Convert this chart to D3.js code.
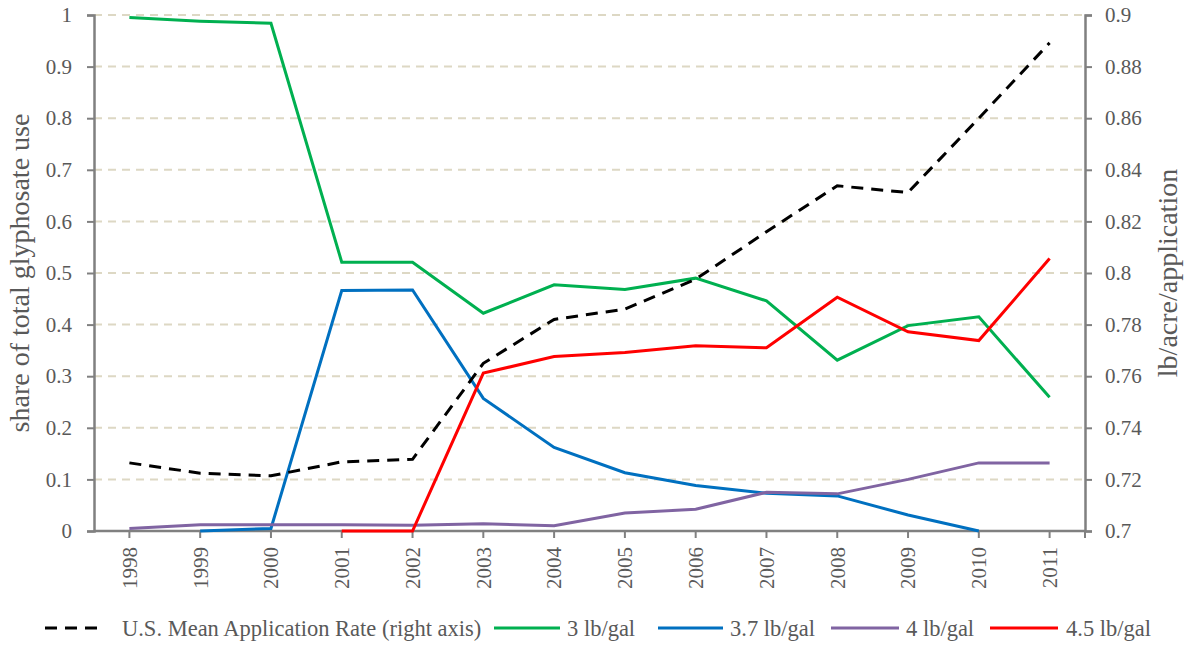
<!DOCTYPE html>
<html>
<head>
<meta charset="utf-8">
<script src="https://cdn.jsdelivr.net/npm/d3@7"></script>
<style>
  body { margin: 0; background: #fff; }
</style>
</head>
<body>
<div id="chart"></div>
<script>
const years = ['1998', '1999', '2000', '2001', '2002', '2003', '2004', '2005', '2006', '2007', '2008', '2009', '2010', '2011'];

// left axis: share of total glyphosate use (null = no data)
const lb30 = [0.995, 0.988, 0.984, 0.521, 0.521, 0.422, 0.477, 0.468, 0.490, 0.446, 0.331, 0.398, 0.415, 0.259];
const lb37 = [null, 0.0, 0.005, 0.466, 0.467, 0.257, 0.162, 0.113, 0.088, 0.073, 0.068, 0.031, 0.0, null];
const lb40 = [0.005, 0.012, 0.012, 0.012, 0.011, 0.014, 0.010, 0.035, 0.042, 0.075, 0.072, 0.100, 0.132, 0.132];
const lb45 = [null, null, null, 0.0, 0.0, 0.306, 0.338, 0.346, 0.359, 0.355, 0.453, 0.386, 0.369, 0.528];

// right axis: U.S. mean application rate, lb/acre/application
const meanRate = [0.7264, 0.7224, 0.7214, 0.7268, 0.7278, 0.765, 0.782, 0.786, 0.7976, 0.816, 0.8338, 0.8312, 0.860, 0.8892];

const leftTicks = [0, 0.1, 0.2, 0.3, 0.4, 0.5, 0.6, 0.7, 0.8, 0.9, 1];
const rightTicks = [0.7, 0.72, 0.74, 0.76, 0.78, 0.8, 0.82, 0.84, 0.86, 0.88, 0.9];

const series = [
    { name: 'U.S. Mean Application Rate (right axis)', values: meanRate, color: '#000000', right: true, dash: '12,8' },
    { name: '3 lb/gal', values: lb30, color: '#00B050' },
    { name: '3.7 lb/gal', values: lb37, color: '#0070C0' },
    { name: '4 lb/gal', values: lb40, color: '#8064A2' },
    { name: '4.5 lb/gal', values: lb45, color: '#FF0000' }
];

const width = 1190;
const height = 647;
const margin = { left: 94, right: 105, top: 15, bottom: 116 };
const axisColor = '#808080';
const textColor = '#595959';
const fontFamily = "'Liberation Serif', 'DejaVu Serif', 'Times New Roman', serif";

const svg = d3.select('#chart').append('svg')
    .attr('width', width)
    .attr('height', height)
    .attr('font-family', fontFamily);

const x = d3.scaleBand()
    .domain(years)
    .range([margin.left, width - margin.right]);

const y = d3.scaleLinear()
    .domain([0, 1])
    .range([height - margin.bottom, margin.top]);

const yRight = d3.scaleLinear()
    .domain([0.7, 0.9])
    .range([height - margin.bottom, margin.top]);

const cx = d => x(d) + x.bandwidth() / 2;

// gridlines
svg.append('g')
    .selectAll('line')
    .data(leftTicks.filter(t => t > 0))
    .join('line')
    .attr('x1', margin.left)
    .attr('x2', width - margin.right)
    .attr('y1', d => y(d))
    .attr('y2', d => y(d))
    .style('stroke', '#DDD8C4')
    .style('stroke-width', 2)
    .style('stroke-dasharray', '8,6');

// left axis
const leftAxis = svg.append('g')
    .attr('transform', `translate(${margin.left},0)`)
    .call(d3.axisLeft(y).tickValues(leftTicks).tickFormat(d3.format('~g')).tickSize(7).tickPadding(15));

// right axis
const rightAxis = svg.append('g')
    .attr('transform', `translate(${width - margin.right},0)`)
    .call(d3.axisRight(yRight).tickValues(rightTicks).tickFormat(d3.format('~g')).tickSize(7).tickPadding(13));

// bottom axis
const bottomAxis = svg.append('g')
    .attr('transform', `translate(0,${height - margin.bottom})`)
    .call(d3.axisBottom(x).tickSize(7).tickSizeOuter(0));

bottomAxis.selectAll('text')
    .attr('transform', 'rotate(-90)')
    .attr('text-anchor', 'end')
    .attr('dy', '0.35em')
    .attr('x', -16)
    .attr('y', 0);

bottomAxis.append('line')
    .attr('x1', width - margin.right)
    .attr('x2', width - margin.right)
    .attr('y1', 0)
    .attr('y2', 7);

[leftAxis, rightAxis, bottomAxis].forEach(g => {
    g.attr('font-family', fontFamily).attr('font-size', null);
    g.select('.domain').style('stroke', axisColor).style('stroke-width', 2.5);
    g.selectAll('line').style('stroke', axisColor).style('stroke-width', 2);
    g.selectAll('text')
        .style('fill', textColor)
        .style('font-family', fontFamily)
        .style('font-size', '21px');
});
bottomAxis.select('.domain').attr('d', `M${margin.left},0H${width - margin.right}`);

// axis titles
svg.append('text')
    .attr('transform', `translate(29,${(margin.top + height - margin.bottom) / 2}) rotate(-90)`)
    .attr('text-anchor', 'middle')
    .style('font-family', fontFamily)
    .style('font-size', '28px')
    .style('fill', textColor)
    .text('share of total glyphosate use');

svg.append('text')
    .attr('transform', `translate(1177,${(margin.top + height - margin.bottom) / 2}) rotate(-90)`)
    .attr('text-anchor', 'middle')
    .style('font-family', fontFamily)
    .style('font-size', '28px')
    .style('fill', textColor)
    .text('lb/acre/application');

// series lines
series.slice(1).concat(series.slice(0, 1)).forEach(s => {
    const yScale = s.right ? yRight : y;
    const line = d3.line()
        .defined(d => d.v !== null)
        .x(d => cx(d.year))
        .y(d => yScale(d.v));
    svg.append('path')
        .datum(years.map((year, i) => ({ year, v: s.values[i] })))
        .attr('d', line)
        .style('fill', 'none')
        .style('stroke', s.color)
        .style('stroke-width', 3)
        .style('stroke-dasharray', s.dash || null);
});

// legend
const legendY = 628;
const legendPos = [
    { x1: 45, x2: 105, tx: 122 },
    { x1: 494, x2: 560, tx: 567 },
    { x1: 658, x2: 723, tx: 730 },
    { x1: 831, x2: 899, tx: 906 },
    { x1: 990, x2: 1058, tx: 1066 }
];
const legend = svg.append('g');
series.forEach((s, i) => {
    const p = legendPos[i];
    legend.append('line')
        .attr('x1', p.x1)
        .attr('x2', p.x2)
        .attr('y1', legendY)
        .attr('y2', legendY)
        .style('stroke', s.color)
        .style('stroke-width', 3)
        .style('stroke-dasharray', s.dash || null);
    legend.append('text')
        .attr('x', p.tx)
        .attr('y', legendY)
        .attr('dy', '0.35em')
        .style('font-family', fontFamily)
        .style('font-size', '22.5px')
        .style('fill', textColor)
        .text(s.name);
});
</script>
</body>
</html>
